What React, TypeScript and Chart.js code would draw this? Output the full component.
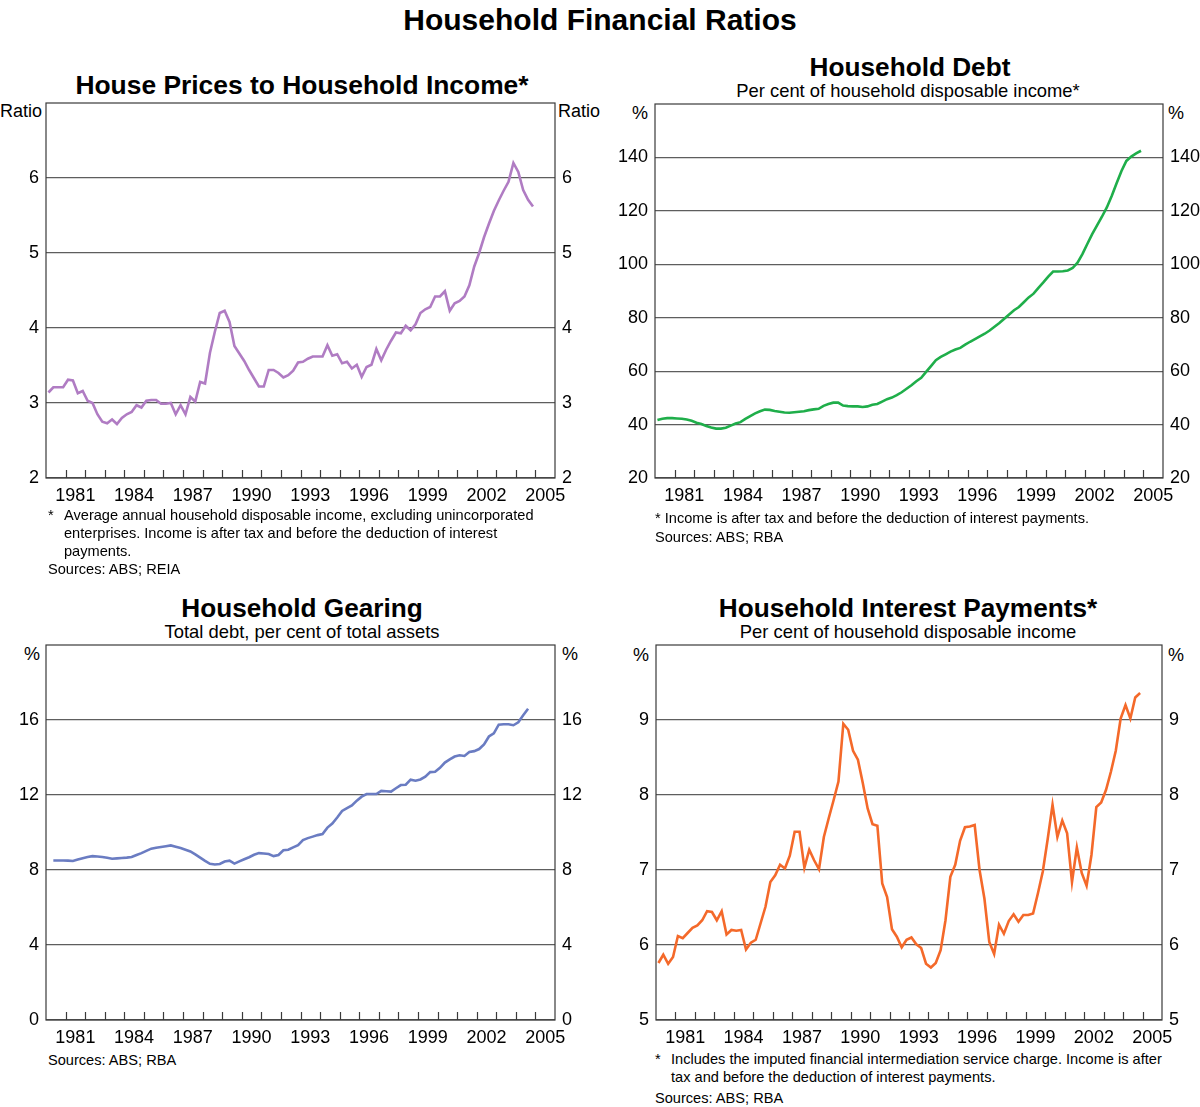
import React, { useEffect, useRef } from 'react';
import { Chart, registerables } from 'chart.js';

Chart.register(...registerables);

const FONT = '"Liberation Sans", Arial, Helvetica, sans-serif';

// Quarterly observations, 1980 Q1 .. 2004 Q4 (plotted at mid-quarter)
const quarterYears: number[] = [];
for (let y = 1980; y <= 2004; y++) {
  for (let q = 1; q <= 4; q++) quarterYears.push(y + (q - 0.5) / 4);
}

const yearTickValues = [1981.5, 1984.5, 1987.5, 1990.5, 1993.5, 1996.5, 1999.5, 2002.5, 2005.5];
const yearTickLabels = ['1981', '1984', '1987', '1990', '1993', '1996', '1999', '2002', '2005'];
const yearBoundaries: number[] = [];
for (let y = 1981; y <= 2005; y++) yearBoundaries.push(y);

const housePriceRatio = [
  3.14, 3.21, 3.21, 3.21, 3.31, 3.30, 3.13, 3.16, 3.03, 3.00,
  2.85, 2.75, 2.73, 2.78, 2.72, 2.80, 2.85, 2.88, 2.97, 2.94,
  3.03, 3.04, 3.04, 2.99, 2.99, 3.00, 2.85, 2.97, 2.85, 3.08,
  3.02, 3.28, 3.26, 3.67, 3.95, 4.20, 4.23, 4.08, 3.76, 3.66,
  3.56, 3.44, 3.33, 3.22, 3.22, 3.44, 3.44, 3.40, 3.34, 3.37,
  3.43, 3.54, 3.55, 3.59, 3.62, 3.62, 3.62, 3.77, 3.63, 3.65,
  3.53, 3.55, 3.46, 3.51, 3.35, 3.48, 3.51, 3.72, 3.57, 3.71,
  3.83, 3.94, 3.93, 4.03, 3.97, 4.05, 4.20, 4.25, 4.28, 4.42,
  4.42, 4.49, 4.23, 4.33, 4.36, 4.42, 4.57, 4.82, 5.00, 5.21,
  5.39, 5.56, 5.70, 5.83, 5.95, 6.20, 6.08, 5.84, 5.71, 5.62,
];

const householdDebt = [
  41.7, 42.2, 42.4, 42.4, 42.3, 42.2, 41.9, 41.4, 40.7, 40.2,
  39.5, 38.9, 38.5, 38.5, 38.8, 39.6, 40.4, 40.9, 42.1, 43.2,
  44.2, 45.0, 45.6, 45.5, 45.1, 44.8, 44.5, 44.4, 44.6, 44.8,
  45.0, 45.4, 45.7, 45.9, 47.0, 47.7, 48.2, 48.2, 47.1, 46.9,
  46.8, 46.8, 46.6, 46.8, 47.4, 47.7, 48.6, 49.5, 50.1, 51.0,
  52.1, 53.4, 54.7, 56.2, 57.5, 59.7, 61.9, 64.1, 65.3, 66.3,
  67.3, 68.1, 68.7, 69.9, 71.0, 72.0, 73.0, 74.0, 75.2, 76.6,
  78.0, 79.6, 81.2, 82.8, 84.0, 85.8, 87.6, 89.0, 91.2, 93.2,
  95.4, 97.3, 97.3, 97.4, 97.7, 98.6, 100.6, 103.8, 107.6, 111.3,
  114.6, 117.8, 121.3, 125.6, 130.3, 134.9, 138.7, 140.3, 141.5, 142.5,
];

const householdGearing = [
  null, 8.51, 8.51, 8.51, 8.50, 8.48, 8.56, 8.63, 8.69, 8.74,
  8.72, 8.69, 8.65, 8.60, 8.62, 8.64, 8.66, 8.69, 8.80, 8.90,
  9.02, 9.14, 9.19, 9.23, 9.27, 9.31, 9.24, 9.17, 9.08, 8.99,
  8.83, 8.66, 8.49, 8.33, 8.29, 8.32, 8.45, 8.50, 8.34, 8.46,
  8.57, 8.68, 8.81, 8.90, 8.88, 8.85, 8.74, 8.80, 9.05, 9.08,
  9.21, 9.33, 9.60, 9.70, 9.78, 9.86, 9.92, 10.26, 10.48, 10.80,
  11.15, 11.30, 11.44, 11.70, 11.91, 12.05, 12.05, 12.05, 12.22, 12.20,
  12.18, 12.36, 12.53, 12.55, 12.82, 12.76, 12.83, 12.98, 13.22, 13.24,
  13.45, 13.73, 13.90, 14.05, 14.12, 14.08, 14.29, 14.34, 14.45, 14.70,
  15.12, 15.29, 15.75, 15.77, 15.77, 15.72, 15.88, 16.25, 16.60, null,
];

const interestPayments = [
  5.76, 5.87, 5.75, 5.84, 6.12, 6.09, 6.16, 6.23, 6.26, 6.33,
  6.45, 6.44, 6.33, 6.45, 6.14, 6.20, 6.19, 6.20, 5.94, 6.03,
  6.07, 6.29, 6.51, 6.84, 6.93, 7.07, 7.02, 7.19, 7.51, 7.51,
  7.03, 7.27, 7.13, 7.01, 7.44, 7.69, 7.93, 8.18, 8.95, 8.87,
  8.59, 8.47, 8.16, 7.82, 7.61, 7.59, 6.82, 6.64, 6.21, 6.11,
  5.97, 6.07, 6.10, 6.01, 5.96, 5.75, 5.70, 5.76, 5.93, 6.33,
  6.91, 7.07, 7.39, 7.57, 7.58, 7.60, 7.00, 6.62, 6.04, 5.88,
  6.27, 6.15, 6.32, 6.41, 6.31, 6.40, 6.40, 6.42, 6.69, 6.98,
  7.41, 7.87, 7.44, 7.66, 7.49, 6.84, 7.30, 6.96, 6.79, 7.20,
  7.84, 7.90, 8.07, 8.31, 8.59, 9.02, 9.20, 9.02, 9.30, 9.36,
];

const ratioTicks = [2, 3, 4, 5, 6];
const debtTicks = [20, 40, 60, 80, 100, 120, 140];
const gearingTicks = [0, 4, 8, 12, 16];
const interestTicks = [5, 6, 7, 8, 9];

const PAD_TOP = 24;

interface PanelProps {
  left: number;
  width: number;
  plotLeft: number; // absolute page coords of the plot area
  plotRight: number;
  plotTop: number;
  plotBottom: number;
  canvasBottom: number;
  yMin: number;
  yMax: number;
  yTicks: number[];
  values: (number | null)[];
  color: string;
}

const framePlugin = {
  id: 'rbaFrame',
  afterDatasetsDraw(chart: any) {
    const { ctx, chartArea, scales } = chart;
    ctx.save();
    ctx.strokeStyle = '#3a3a3a';
    ctx.lineWidth = 1.2;
    ctx.strokeRect(chartArea.left, chartArea.top, chartArea.right - chartArea.left, chartArea.bottom - chartArea.top);
    ctx.beginPath();
    for (const yb of yearBoundaries) {
      const px = Math.round(scales.x.getPixelForValue(yb)) + 0.5;
      ctx.moveTo(px, chartArea.bottom);
      ctx.lineTo(px, chartArea.bottom - 8);
    }
    ctx.stroke();
    ctx.restore();
  },
};

function Panel(p: PanelProps) {
  const ref = useRef<HTMLCanvasElement | null>(null);
  const top = p.plotTop - PAD_TOP;
  const height = p.canvasBottom - top;
  const areaLeft = p.plotLeft - p.left;
  const areaRight = p.plotRight - p.left;
  const areaBottom = p.plotBottom - top;
  useEffect(() => {
    if (!ref.current) return;
    const points = quarterYears.map((x, i) => ({ x, y: p.values[i] }));
    const tickFont = { family: FONT, size: 18 };
    const chart = new Chart(ref.current, {
      type: 'line',
      data: {
        datasets: [
          {
            data: points as any,
            borderColor: p.color,
            borderWidth: 2.6,
            pointRadius: 0,
            tension: 0,
            spanGaps: false,
            fill: false,
          },
        ],
      },
      options: {
        animation: false,
        responsive: false,
        devicePixelRatio: 1,
        events: [],
        layout: { padding: { top: PAD_TOP, left: 0, right: 0, bottom: 0 } },
        plugins: { legend: { display: false }, tooltip: { enabled: false }, title: { display: false } },
        scales: {
          x: {
            type: 'linear',
            min: 1980,
            max: 2006,
            grid: { display: false, drawTicks: false },
            border: { display: false },
            afterBuildTicks: (s: any) => {
              s.ticks = yearTickValues.map((v) => ({ value: v }));
            },
            afterFit: (s: any) => {
              s.height = height - areaBottom;
            },
            ticks: {
              autoSkip: false,
              maxRotation: 0,
              padding: 7,
              color: '#000',
              font: tickFont,
              callback: (_v: any, i: number) => yearTickLabels[i],
            },
          },
          y: {
            type: 'linear',
            position: 'left',
            min: p.yMin,
            max: p.yMax,
            afterBuildTicks: (s: any) => {
              s.ticks = p.yTicks.map((v) => ({ value: v }));
            },
            afterFit: (s: any) => {
              s.width = areaLeft;
            },
            grid: { color: '#5e5e5e', lineWidth: 1.2, drawTicks: false },
            border: { display: false },
            ticks: { padding: 7, color: '#000', font: tickFont, callback: (v: any) => String(v) },
          },
          y2: {
            type: 'linear',
            position: 'right',
            min: p.yMin,
            max: p.yMax,
            afterBuildTicks: (s: any) => {
              s.ticks = p.yTicks.map((v) => ({ value: v }));
            },
            afterFit: (s: any) => {
              s.width = p.width - areaRight;
            },
            grid: { display: false, drawTicks: false },
            border: { display: false },
            ticks: { padding: 7, color: '#000', font: tickFont, callback: (v: any) => String(v) },
          },
        },
      } as any,
      plugins: [framePlugin],
    });
    return () => chart.destroy();
  }, []);
  return (
    <canvas
      ref={ref}
      width={p.width}
      height={height}
      style={{ position: 'absolute', left: p.left, top, width: p.width, height }}
    />
  );
}

function T(props: {
  x: number;
  y: number;
  size: number;
  bold?: boolean;
  align?: 'left' | 'center';
  children: React.ReactNode;
}) {
  const { x, y, size, bold, align = 'left', children } = props;
  return (
    <div
      style={{
        position: 'absolute',
        left: x,
        top: y - size / 2,
        fontSize: size,
        lineHeight: `${size}px`,
        fontWeight: bold ? 700 : 400,
        fontFamily: FONT,
        color: '#000',
        whiteSpace: 'nowrap',
        transform: align === 'center' ? 'translateX(-50%)' : undefined,
      }}
    >
      {children}
    </div>
  );
}

export default function App() {
  const fn = 14.6;
  return (
    <div style={{ position: 'absolute', left: 0, top: 0, width: 1200, height: 1107, background: '#fff', overflow: 'hidden' }}>
      <T x={600} y={20} size={30} bold align="center">Household Financial Ratios</T>

      {/* Panel 1 */}
      <T x={302} y={85} size={26.4} bold align="center">House Prices to Household Income*</T>
      <T x={0} y={111} size={18}>Ratio</T>
      <T x={558} y={111} size={18}>Ratio</T>
      <Panel left={0} width={600} plotLeft={46} plotRight={555} plotTop={103} plotBottom={478} canvasBottom={515}
        yMin={2} yMax={7} yTicks={ratioTicks} values={housePriceRatio} color="#b07cc3" />
      <T x={48} y={515} size={fn}>*</T>
      <T x={64} y={515} size={fn}>Average annual household disposable income, excluding unincorporated</T>
      <T x={64} y={533} size={fn}>enterprises. Income is after tax and before the deduction of interest</T>
      <T x={64} y={551} size={fn}>payments.</T>
      <T x={48} y={569} size={fn}>Sources: ABS; REIA</T>

      {/* Panel 2 */}
      <T x={910} y={67} size={26.2} bold align="center">Household Debt</T>
      <T x={908} y={91} size={18.4} align="center">Per cent of household disposable income*</T>
      <T x={640} y={113} size={18} align="center">%</T>
      <T x={1176} y={113} size={18} align="center">%</T>
      <Panel left={600} width={600} plotLeft={655} plotRight={1163} plotTop={104} plotBottom={478} canvasBottom={515}
        yMin={20} yMax={160} yTicks={debtTicks} values={householdDebt} color="#1fae4a" />
      <T x={655} y={518} size={fn}>* Income is after tax and before the deduction of interest payments.</T>
      <T x={655} y={537} size={fn}>Sources: ABS; RBA</T>

      {/* Panel 3 */}
      <T x={302} y={608} size={26.2} bold align="center">Household Gearing</T>
      <T x={302} y={632} size={18.4} align="center">Total debt, per cent of total assets</T>
      <T x={32} y={654} size={18} align="center">%</T>
      <T x={570} y={654} size={18} align="center">%</T>
      <Panel left={0} width={600} plotLeft={46} plotRight={555} plotTop={645} plotBottom={1020} canvasBottom={1050}
        yMin={0} yMax={20} yTicks={gearingTicks} values={householdGearing} color="#6a7cc2" />
      <T x={48} y={1060} size={fn}>Sources: ABS; RBA</T>

      {/* Panel 4 */}
      <T x={908} y={608} size={26.2} bold align="center">Household Interest Payments*</T>
      <T x={908} y={632} size={18.4} align="center">Per cent of household disposable income</T>
      <T x={641} y={655} size={18} align="center">%</T>
      <T x={1176} y={655} size={18} align="center">%</T>
      <Panel left={600} width={600} plotLeft={656} plotRight={1162} plotTop={645} plotBottom={1020} canvasBottom={1050}
        yMin={5} yMax={10} yTicks={interestTicks} values={interestPayments} color="#f4692a" />
      <T x={655} y={1059} size={fn}>*</T>
      <T x={671} y={1059} size={fn}>Includes the imputed financial intermediation service charge. Income is after</T>
      <T x={671} y={1077} size={fn}>tax and before the deduction of interest payments.</T>
      <T x={655} y={1098} size={fn}>Sources: ABS; RBA</T>
    </div>
  );
}
